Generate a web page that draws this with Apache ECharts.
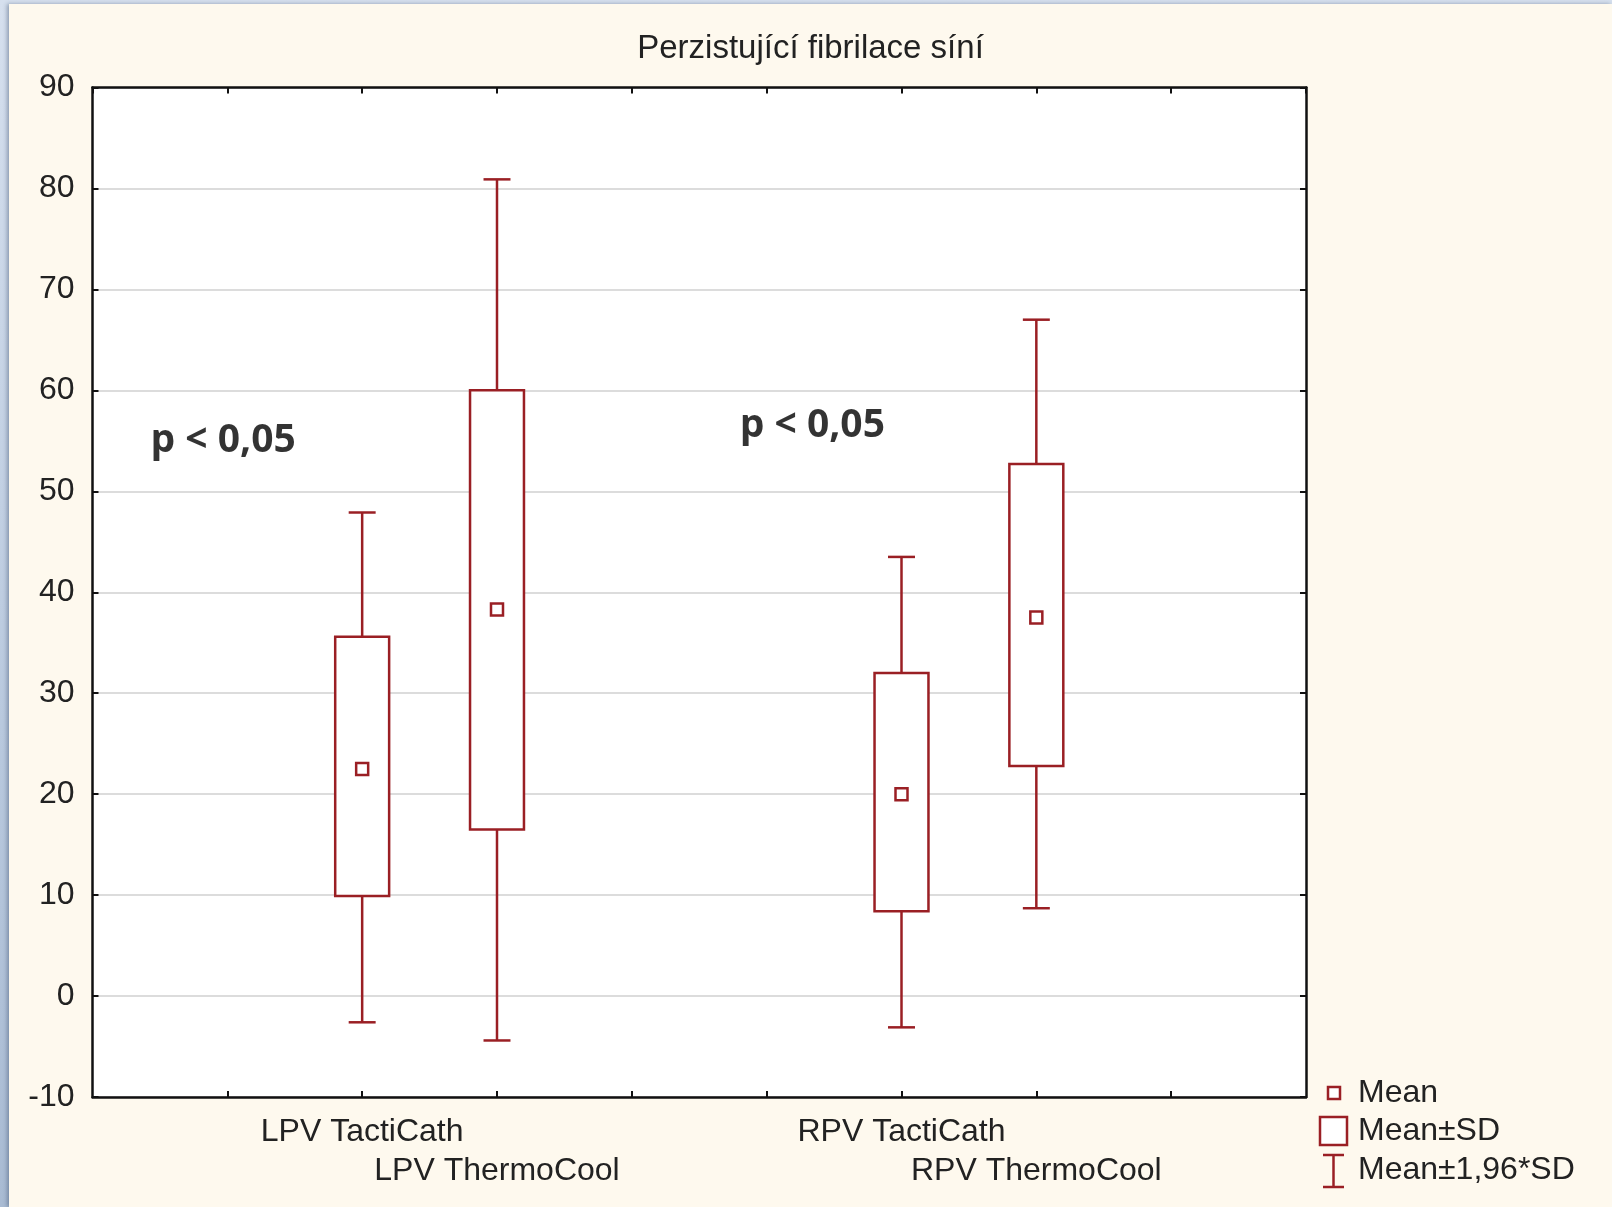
<!DOCTYPE html>
<html>
<head>
<meta charset="utf-8">
<script src="https://cdn.jsdelivr.net/npm/echarts@6/dist/echarts.min.js"></script>
<style>
html,body{margin:0;padding:0;width:1612px;height:1207px;overflow:hidden;}
body{background:linear-gradient(to bottom,#d6e0ee 0%,#b9c9de 60%,#a9bbd3 100%);}
#frame{position:absolute;left:9px;top:4px;width:1603px;height:1203px;background:#fef9ee;box-shadow:-2px 0 4px rgba(60,80,110,0.45);}
#chart{position:absolute;left:0;top:1px;width:1603px;height:1202px;}
</style>
</head>
<body>
<div id="frame"><div id="chart"></div></div>
<script>
// ---- data ----
const chartTitle = 'Perzistující fibrilace síní';
const categories = ['LPV TactiCath', 'LPV ThermoCool', 'RPV TactiCath', 'RPV ThermoCool'];
const positions = [2, 3, 6, 7];
const means = [22.5, 38.3, 20.0, 37.5];
const sdLow = [9.9, 16.5, 8.4, 22.8];
const sdHigh = [35.6, 60.0, 32.0, 52.7];
const ciLow = [-2.6, -4.4, -3.1, 8.7];
const ciHigh = [47.9, 80.9, 43.5, 67.0];
const yTicks = { min: -10, max: 90, interval: 10 };
const annotations = [
  { x: 0.43, y: 55.0, text: 'p < 0,05' },
  { x: 4.80, y: 56.5, text: 'p < 0,05' }
];
const legendNames = ['Mean', 'Mean±SD', 'Mean±1,96*SD'];

// ---- styling ----
const RED = '#9a1f24';
const TXT = '#222222';
const FONT = '"Liberation Sans", Arial, sans-serif';
const LW = 2.5;

const rows = positions.map((p, i) => [p, means[i], sdLow[i], sdHigh[i], ciLow[i], ciHigh[i]]);

function whiskerItem(params, api) {
  const x = api.value(0);
  const capW = api.size([0.2, 0])[0];
  const top = api.coord([x, api.value(5)]);
  const bTop = api.coord([x, api.value(3)]);
  const bot = api.coord([x, api.value(4)]);
  const bBot = api.coord([x, api.value(2)]);
  const st = { stroke: RED, lineWidth: LW, fill: null };
  return {
    type: 'group',
    children: [
      { type: 'line', shape: { x1: top[0], y1: top[1], x2: bTop[0], y2: bTop[1] }, style: st },
      { type: 'line', shape: { x1: top[0] - capW / 2, y1: top[1], x2: top[0] + capW / 2, y2: top[1] }, style: st },
      { type: 'line', shape: { x1: bot[0], y1: bot[1], x2: bBot[0], y2: bBot[1] }, style: st },
      { type: 'line', shape: { x1: bot[0] - capW / 2, y1: bot[1], x2: bot[0] + capW / 2, y2: bot[1] }, style: st }
    ]
  };
}
function boxItem(params, api) {
  const x = api.value(0);
  const w = api.size([0.4, 0])[0];
  const hi = api.coord([x, api.value(3)]);
  const lo = api.coord([x, api.value(2)]);
  return {
    type: 'rect',
    shape: { x: hi[0] - w / 2, y: hi[1], width: w, height: lo[1] - hi[1] },
    style: { fill: '#ffffff', stroke: RED, lineWidth: LW }
  };
}
function meanItem(params, api) {
  const c = api.coord([api.value(0), api.value(1)]);
  const s = 12;
  return {
    type: 'rect',
    shape: { x: c[0] - s / 2, y: c[1] - s / 2, width: s, height: s },
    style: { fill: '#ffffff', stroke: RED, lineWidth: LW }
  };
}

const chart = echarts.init(document.getElementById('chart'), null, { renderer: 'canvas' });

const labelFor = {};
positions.forEach((p, i) => { labelFor[p] = (i % 2 === 0) ? categories[i] : '\n' + categories[i]; });

const legendX = 1313, legendTextX = 1349;
const legendY = [1088, 1126, 1165];

const frameLine = { show: true, onZero: false, lineStyle: { color: '#111111', width: 2.5 } };
const tick = { show: true, inside: true, length: 6, lineStyle: { color: '#111', width: 2 } };

const option = {
  backgroundColor: 'transparent',
  animation: false,
  title: {
    text: chartTitle,
    left: 'center',
    top: 22,
    textStyle: { fontFamily: FONT, fontSize: 33, fontWeight: 'normal', color: TXT }
  },
  grid: {
    left: 83.5, right: 306, top: 82.5, bottom: 110,
    show: true, backgroundColor: '#ffffff', borderWidth: 0, containLabel: false
  },
  xAxis: [
    {
      type: 'value', min: 0, max: 9, interval: 1, position: 'bottom',
      axisLine: frameLine, axisTick: tick,
      splitLine: { show: false },
      axisLabel: {
        show: true, margin: 16, lineHeight: 39,
        fontFamily: FONT, fontSize: 32, color: TXT,
        showMinLabel: false, showMaxLabel: false,
        formatter: v => labelFor[v] || ''
      }
    },
    {
      type: 'value', min: 0, max: 9, interval: 1, position: 'top',
      axisLine: frameLine, axisTick: tick,
      splitLine: { show: false }, axisLabel: { show: false }
    }
  ],
  yAxis: [
    {
      type: 'value', min: yTicks.min, max: yTicks.max, interval: yTicks.interval, position: 'left',
      axisLine: frameLine, axisTick: tick,
      splitLine: { show: true, lineStyle: { color: '#dcdcdc', width: 2 } },
      axisLabel: { margin: 18, fontFamily: FONT, fontSize: 32, color: TXT }
    },
    {
      type: 'value', min: yTicks.min, max: yTicks.max, interval: yTicks.interval, position: 'right',
      axisLine: frameLine, axisTick: tick,
      splitLine: { show: false }, axisLabel: { show: false }
    }
  ],
  series: [
    { name: legendNames[2], type: 'custom', renderItem: whiskerItem, data: rows, z: 2,
      encode: { x: 0, y: [4, 5] } },
    { name: legendNames[1], type: 'custom', renderItem: boxItem, data: rows, z: 3,
      encode: { x: 0, y: [2, 3] } },
    { name: legendNames[0], type: 'custom', renderItem: meanItem, data: rows, z: 4,
      encode: { x: 0, y: 1 } },
    {
      name: 'p', type: 'scatter', symbolSize: 0, z: 5,
      data: annotations.map(a => ({ value: [a.x, a.y], name: a.text })),
      label: {
        show: true, position: [0, 0], align: 'left', verticalAlign: 'middle',
        formatter: p => p.name,
        fontFamily: '"Open Sans", "Noto Sans", sans-serif', fontWeight: 'bold', fontSize: 39, color: '#000'
      }
    }
  ],
  graphic: [
    { type: 'rect', shape: { x: legendX + 6, y: legendY[0] - 6, width: 12, height: 12 },
      style: { fill: '#fff', stroke: RED, lineWidth: LW } },
    { type: 'rect', shape: { x: legendX - 2, y: legendY[1] - 14, width: 27, height: 28 },
      style: { fill: '#fff', stroke: RED, lineWidth: LW } },
    { type: 'group', children: [
      { type: 'line', shape: { x1: legendX + 11.5, y1: legendY[2] - 15, x2: legendX + 11.5, y2: legendY[2] + 17 }, style: { stroke: RED, lineWidth: LW } },
      { type: 'line', shape: { x1: legendX + 1, y1: legendY[2] - 15, x2: legendX + 22, y2: legendY[2] - 15 }, style: { stroke: RED, lineWidth: LW } },
      { type: 'line', shape: { x1: legendX + 1, y1: legendY[2] + 17, x2: legendX + 22, y2: legendY[2] + 17 }, style: { stroke: RED, lineWidth: LW } }
    ]},
    ...legendNames.map((n, i) => ({
      type: 'text', x: legendTextX, y: legendY[i],
      style: { text: n, fontFamily: FONT, fontSize: 32, fill: TXT, textVerticalAlign: 'middle', textAlign: 'left' }
    }))
  ]
};
chart.setOption(option);
</script>
</body>
</html>
